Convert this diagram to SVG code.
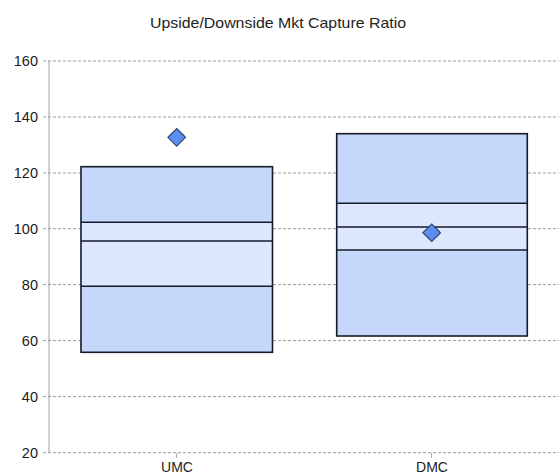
<svg xmlns="http://www.w3.org/2000/svg" width="559" height="475" viewBox="0 0 559 475">
<style>
.grid{stroke:#9a9a9a;stroke-width:1;stroke-dasharray:3,2;fill:none}
.axis{stroke:#d0d0d0;stroke-width:2;fill:none}
.tick{stroke:#b0b0b0;stroke-width:1}
.lbl{font-family:"Liberation Sans",Arial,sans-serif;font-size:14.5px;fill:#222}
.dark{fill:#c5d8fc}
.light{fill:#dde7fd}
.edge{stroke:#141a28;stroke-width:1.6;fill:none}
.dia{fill:#5b8ef0;stroke:#33486e;stroke-width:1.2}
</style>
<rect width="559" height="475" fill="#ffffff"/>
<text x="278" y="27.5" text-anchor="middle" class="lbl" style="font-size:15px" textLength="256" lengthAdjust="spacingAndGlyphs">Upside/Downside Mkt Capture Ratio</text>
<g id="axes">
<line class="axis" x1="49" y1="61" x2="49" y2="453"/>
<g class="grid">
<line x1="43" y1="61" x2="559" y2="61"/>
<line x1="43" y1="117" x2="559" y2="117"/>
<line x1="43" y1="173" x2="559" y2="173"/>
<line x1="43" y1="228.7" x2="559" y2="228.7"/>
<line x1="43" y1="284.6" x2="559" y2="284.6"/>
<line x1="43" y1="340.6" x2="559" y2="340.6"/>
<line x1="43" y1="396.6" x2="559" y2="396.6"/>
<line x1="43" y1="452.7" x2="559" y2="452.7"/>
</g>
<line class="tick" x1="176.5" y1="453" x2="176.5" y2="458"/>
<line class="tick" x1="431.5" y1="453" x2="431.5" y2="458"/>
<g class="lbl" text-anchor="end">
<text x="38" y="66">160</text>
<text x="38" y="122">140</text>
<text x="38" y="178">120</text>
<text x="38" y="233.7">100</text>
<text x="38" y="289.6">80</text>
<text x="38" y="345.6">60</text>
<text x="38" y="401.6">40</text>
<text x="38" y="457.7">20</text>
</g>
<g class="lbl" text-anchor="middle" style="font-size:14px">
<text x="177" y="471.5">UMC</text>
<text x="432" y="471.5">DMC</text>
</g>
</g>
<g id="umc">
<rect class="dark" x="81" y="166.7" width="191.5" height="55.6"/>
<rect class="light" x="81" y="222.3" width="191.5" height="64"/>
<rect class="dark" x="81" y="286.3" width="191.5" height="66"/>
<rect class="edge" x="81" y="166.7" width="191.5" height="185.6"/>
<line class="edge" x1="81" y1="222.3" x2="272.5" y2="222.3"/>
<line class="edge" x1="81" y1="241" x2="272.5" y2="241"/>
<line class="edge" x1="81" y1="286.3" x2="272.5" y2="286.3"/>
<polygon class="dia" points="176.7,128.5 185.5,137.3 176.7,146.1 167.9,137.3"/>
</g>
<g id="dmc">
<rect class="dark" x="336.7" y="133.7" width="190.6" height="69.6"/>
<rect class="light" x="336.7" y="203.3" width="190.6" height="46.7"/>
<rect class="dark" x="336.7" y="250" width="190.6" height="86"/>
<rect class="edge" x="336.7" y="133.7" width="190.6" height="202.3"/>
<line class="edge" x1="336.7" y1="203.3" x2="527.3" y2="203.3"/>
<line class="edge" x1="336.7" y1="227" x2="527.3" y2="227"/>
<line class="edge" x1="336.7" y1="250" x2="527.3" y2="250"/>
<polygon class="dia" points="431.7,224 440.5,232.7 431.7,241.4 422.9,232.7"/>
</g>
<g id="connectors"/>
</svg>
